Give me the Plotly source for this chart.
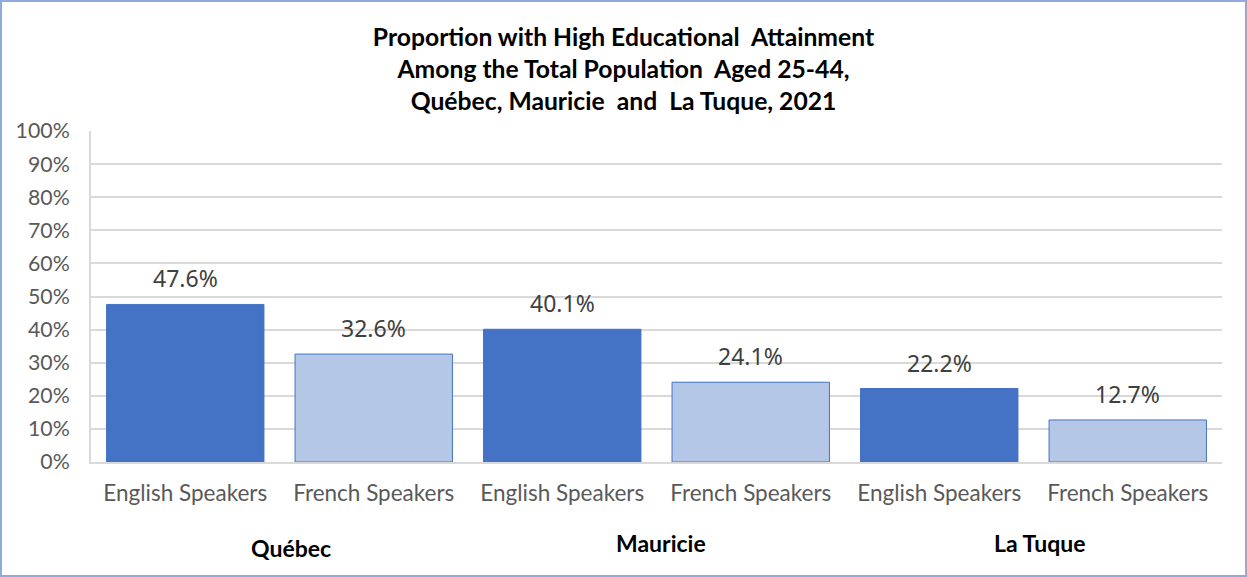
import plotly.graph_objects as go

regions = ["Québec", "Mauricie", "La Tuque"]
groups = ["English Speakers", "French Speakers"]
categories = [g for r in regions for g in groups]
values = [47.6, 32.6, 40.1, 24.1, 22.2, 12.7]
label_text = ["47.6%", "32.6%", "40.1%", "24.1%", "22.2%", "12.7%"]
y_ticks = [0, 10, 20, 30, 40, 50, 60, 70, 80, 90, 100]
y_ticktext = [f"{v}%" for v in y_ticks]

W, H = 1247, 577
L, R, T, B = 91, 25, 131, 115

dark = "#4472C4"
light = "#B4C7E7"
xs = list(range(len(categories)))
colors = [dark if i % 2 == 0 else light for i in xs]

fig = go.Figure()
fig.add_trace(go.Bar(
    x=xs, y=values,
    marker=dict(color=colors, line=dict(color=dark, width=1)),
    width=0.835,
    hoverinfo="skip",
))

annotations = []
for x, v, t in zip(xs, values, label_text):
    annotations.append(dict(x=x, y=v, xref="x", yref="y", text=t, showarrow=False,
                            yshift=26, font=dict(family="Noto Sans, Open Sans, sans-serif", size=23, color="#404040")))
region_dy = [-86, -81, -81]
region_dx = [11, 4, 6]
for i, (r, dy, dx) in enumerate(zip(regions, region_dy, region_dx)):
    annotations.append(dict(x=2 * i + 0.5, y=0, xref="x", yref="y", text=f"<b>{r}</b>",
                            showarrow=False, yshift=dy, xshift=dx,
                            font=dict(family="Lato, Open Sans, sans-serif", size=23, color="#000000")))

pw, ph = W - L - R, H - T - B
shapes = [dict(type="rect", xref="paper", yref="paper",
               x0=-(L - 1) / pw, x1=1 + (R - 1) / pw,
               y0=-(B - 1) / ph, y1=1 + (T - 1) / ph,
               line=dict(color="#8FAADC", width=2), fillcolor="rgba(0,0,0,0)", layer="below")]

fig.update_layout(
    width=W, height=H,
    margin=dict(l=L, r=R, t=T, b=B),
    paper_bgcolor="white", plot_bgcolor="white",
    showlegend=False,
    title=dict(text="<b>Proportion with High Educational  Attainment<br>Among the Total Population  Aged 25-44,<br>Québec, Mauricie  and  La Tuque, 2021</b>",
               x=0.5, xanchor="center", xref="container", y=0.921, yanchor="top", yref="container",
               font=dict(family="Lato, Open Sans, sans-serif", size=24.7, color="#000000")),
    annotations=annotations,
    shapes=shapes,
    xaxis=dict(tickvals=xs, ticktext=categories, range=[-0.5, 5.5],
               showgrid=False, showline=True, linecolor="#D9D9D9", linewidth=2,
               ticks="outside", ticklen=10, tickcolor="rgba(0,0,0,0)",
               tickfont=dict(family="Lato, Open Sans, sans-serif", size=22.5, color="#595959"),
               fixedrange=True),
    yaxis=dict(range=[0, 100], tickvals=y_ticks, ticktext=y_ticktext,
               showgrid=True, gridcolor="#D9D9D9", gridwidth=2,
               showline=True, linecolor="#D9D9D9", linewidth=2, zeroline=False,
               ticks="outside", ticklen=15, tickcolor="rgba(0,0,0,0)",
               tickfont=dict(family="Lato, Open Sans, sans-serif", size=21.3, color="#595959"),
               fixedrange=True),
    bargap=0.165,
)

fig.write_html("out.html", config={"displayModeBar": False},
               post_script="document.body.style.margin='0';")
